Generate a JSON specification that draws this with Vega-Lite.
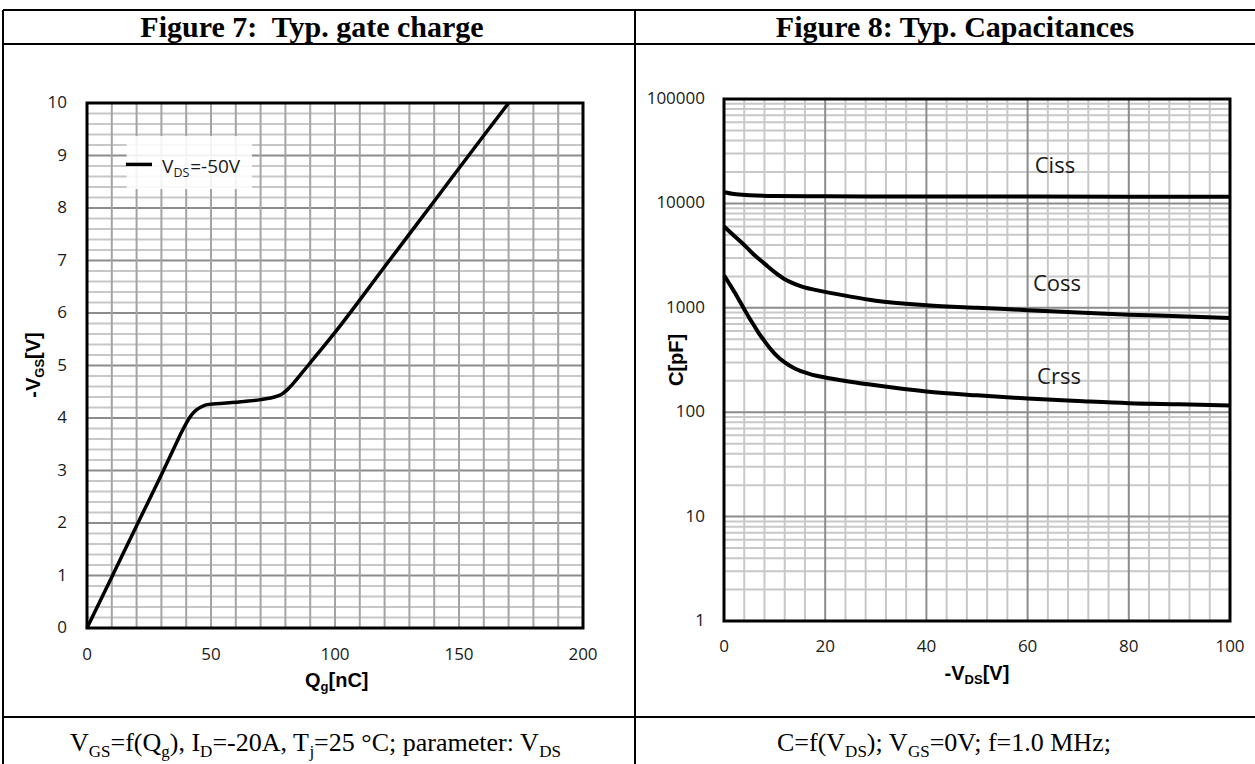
{
  "$schema": "https://vega.github.io/schema/vega-lite/v6.json",
  "width": 1255,
  "height": 764,
  "autosize": "none",
  "padding": 0,
  "background": "white",
  "config": {"view": {"stroke": null}},
  "resolve": {"scale": {"x": "independent", "y": "independent"}, "axis": {"x": "independent", "y": "independent"}},
  "layer": [
    {
      "layer": [
        {
          "data": {"values": [{"v":0.2},{"v":0.4},{"v":0.6},{"v":0.8},{"v":1.2},{"v":1.4},{"v":1.6},{"v":1.8},{"v":2.2},{"v":2.4},{"v":2.6},{"v":2.8},{"v":3.2},{"v":3.4},{"v":3.6},{"v":3.8},{"v":4.2},{"v":4.4},{"v":4.6},{"v":4.8},{"v":5.2},{"v":5.4},{"v":5.6},{"v":5.8},{"v":6.2},{"v":6.4},{"v":6.6},{"v":6.8},{"v":7.2},{"v":7.4},{"v":7.6},{"v":7.8},{"v":8.2},{"v":8.4},{"v":8.6},{"v":8.8},{"v":9.2},{"v":9.4},{"v":9.6},{"v":9.8}]},
          "mark": {"type": "rule", "color": "#c8c8c8", "strokeWidth": 2},
          "encoding": {
            "y": {"field": "v", "type": "quantitative", "scale": {"domain": [-2.590, 11.962], "nice": false, "zero": false}, "axis": null},
            "x": {"datum": 0, "type": "quantitative", "scale": {"domain": [-35.081, 470.968], "nice": false, "zero": false}, "axis": null},
            "x2": {"datum": 200}
          }
        },
        {
          "data": {"values": [{"v":1},{"v":2},{"v":3},{"v":4},{"v":5},{"v":6},{"v":7},{"v":8},{"v":9}]},
          "mark": {"type": "rule", "color": "#8c8c8c", "strokeWidth": 2},
          "encoding": {
            "y": {"field": "v", "type": "quantitative", "scale": {"domain": [-2.590, 11.962], "nice": false, "zero": false}, "axis": null},
            "x": {"datum": 0, "type": "quantitative", "scale": {"domain": [-35.081, 470.968], "nice": false, "zero": false}, "axis": null},
            "x2": {"datum": 200}
          }
        },
        {
          "data": {"values": [{"q":10},{"q":20},{"q":30},{"q":40},{"q":50},{"q":60},{"q":70},{"q":80},{"q":90},{"q":100},{"q":110},{"q":120},{"q":130},{"q":140},{"q":150},{"q":160},{"q":170},{"q":180},{"q":190}]},
          "mark": {"type": "rule", "color": "#a4a4a4", "strokeWidth": 2},
          "encoding": {
            "x": {"field": "q", "type": "quantitative", "scale": {"domain": [-35.081, 470.968], "nice": false, "zero": false}, "axis": null},
            "y": {"datum": 0, "type": "quantitative", "scale": {"domain": [-2.590, 11.962], "nice": false, "zero": false}, "axis": null},
            "y2": {"datum": 10}
          }
        },
        {
          "data": {"values": [{"q":0,"t":"0"},{"q":50,"t":"50"},{"q":100,"t":"100"},{"q":150,"t":"150"},{"q":200,"t":"200"}]},
          "mark": {"type": "text", "align": "center", "baseline": "middle", "dy": 27, "font": "Open Sans", "fontSize": 17, "color": "#1a1a1a"},
          "encoding": {
            "x": {"field": "q", "type": "quantitative", "scale": {"domain": [-35.081, 470.968], "nice": false, "zero": false}, "axis": null},
            "y": {"datum": 0, "type": "quantitative", "scale": {"domain": [-2.590, 11.962], "nice": false, "zero": false}, "axis": null},
            "text": {"field": "t"}
          }
        },
        {
          "data": {"values": [{"v":0,"t":"0"},{"v":1,"t":"1"},{"v":2,"t":"2"},{"v":3,"t":"3"},{"v":4,"t":"4"},{"v":5,"t":"5"},{"v":6,"t":"6"},{"v":7,"t":"7"},{"v":8,"t":"8"},{"v":9,"t":"9"},{"v":10,"t":"10"}]},
          "mark": {"type": "text", "align": "right", "baseline": "middle", "dx": -20, "font": "Open Sans", "fontSize": 17, "color": "#1a1a1a"},
          "encoding": {
            "y": {"field": "v", "type": "quantitative", "scale": {"domain": [-2.590, 11.962], "nice": false, "zero": false}, "axis": null},
            "x": {"datum": 0, "type": "quantitative", "scale": {"domain": [-35.081, 470.968], "nice": false, "zero": false}, "axis": null},
            "text": {"field": "t"}
          }
        },
        {
          "data": {"values": [{"q1": 16, "q2": 66.5, "v1": 8.36, "v2": 9.37}]},
          "mark": {"type": "rect", "fill": "white", "opacity": 0.88},
          "encoding": {
            "x": {"field": "q1", "type": "quantitative", "scale": {"domain": [-35.081, 470.968], "nice": false, "zero": false}, "axis": null},
            "x2": {"field": "q2"},
            "y": {"field": "v1", "type": "quantitative", "scale": {"domain": [-2.590, 11.962], "nice": false, "zero": false}, "axis": null},
            "y2": {"field": "v2"}
          }
        },
        {
          "data": {"values": [{"q1": 15.7, "q2": 26.2, "v": 8.83}]},
          "mark": {"type": "rule", "color": "black", "strokeWidth": 3.5},
          "encoding": {
            "x": {"field": "q1", "type": "quantitative", "scale": {"domain": [-35.081, 470.968], "nice": false, "zero": false}, "axis": null},
            "x2": {"field": "q2"},
            "y": {"field": "v", "type": "quantitative", "scale": {"domain": [-2.590, 11.962], "nice": false, "zero": false}, "axis": null}
          }
        },
        {
          "data": {"values": [{"q": 30.2, "v": 8.67, "t": "V"}, {"q": 41.6, "v": 8.67, "t": "=-50V"}]},
          "mark": {"type": "text", "align": "left", "baseline": "alphabetic", "font": "Open Sans", "fontSize": 19, "color": "#1a1a1a"},
          "encoding": {
            "x": {"field": "q", "type": "quantitative", "scale": {"domain": [-35.081, 470.968], "nice": false, "zero": false}, "axis": null},
            "y": {"field": "v", "type": "quantitative", "scale": {"domain": [-2.590, 11.962], "nice": false, "zero": false}, "axis": null},
            "text": {"field": "t"}
          }
        },
        {
          "data": {"values": [{"q": 34.9, "v": 8.59, "t": "DS"}]},
          "mark": {"type": "text", "align": "left", "baseline": "alphabetic", "font": "Open Sans", "fontSize": 12.5, "color": "#1a1a1a"},
          "encoding": {
            "x": {"field": "q", "type": "quantitative", "scale": {"domain": [-35.081, 470.968], "nice": false, "zero": false}, "axis": null},
            "y": {"field": "v", "type": "quantitative", "scale": {"domain": [-2.590, 11.962], "nice": false, "zero": false}, "axis": null},
            "text": {"field": "t"}
          }
        },
        {
          "data": {"values": [
            {"q":0,"v":0},{"q":10,"v":0.97},{"q":20,"v":1.95},{"q":30,"v":2.92},{"q":36,"v":3.52},{"q":38,"v":3.72},{"q":40,"v":3.9},{"q":42,"v":4.05},{"q":44,"v":4.15},{"q":46,"v":4.21},{"q":48,"v":4.25},{"q":52,"v":4.27},{"q":60,"v":4.30},{"q":70,"v":4.35},{"q":74,"v":4.38},{"q":77,"v":4.42},{"q":79,"v":4.47},{"q":81,"v":4.55},{"q":83,"v":4.65},{"q":86,"v":4.82},{"q":90,"v":5.05},{"q":100,"v":5.63},{"q":120,"v":6.88},{"q":140,"v":8.13},{"q":160,"v":9.38},{"q":170,"v":10.0}
          ]},
          "mark": {"type": "line", "color": "black", "strokeWidth": 3.5, "interpolate": "monotone"},
          "encoding": {
            "x": {"field": "q", "type": "quantitative", "scale": {"domain": [-35.081, 470.968], "nice": false, "zero": false}, "axis": null},
            "y": {"field": "v", "type": "quantitative", "scale": {"domain": [-2.590, 11.962], "nice": false, "zero": false}, "axis": null}
          }
        },
        {
          "data": {"values": [{"q1": 0, "q2": 200, "v1": 0, "v2": 10}]},
          "mark": {"type": "rect", "filled": false, "stroke": "black", "strokeWidth": 3},
          "encoding": {
            "x": {"field": "q1", "type": "quantitative", "scale": {"domain": [-35.081, 470.968], "nice": false, "zero": false}, "axis": null},
            "x2": {"field": "q2"},
            "y": {"field": "v1", "type": "quantitative", "scale": {"domain": [-2.590, 11.962], "nice": false, "zero": false}, "axis": null},
            "y2": {"field": "v2"}
          }
        }
      ]
    },
    {
      "layer": [
        {
          "data": {"values": [{"c":2},{"c":3},{"c":4},{"c":5},{"c":6},{"c":7},{"c":8},{"c":9},{"c":20},{"c":30},{"c":40},{"c":50},{"c":60},{"c":70},{"c":80},{"c":90},{"c":200},{"c":300},{"c":400},{"c":500},{"c":600},{"c":700},{"c":800},{"c":900},{"c":2000},{"c":3000},{"c":4000},{"c":5000},{"c":6000},{"c":7000},{"c":8000},{"c":9000},{"c":20000},{"c":30000},{"c":40000},{"c":50000},{"c":60000},{"c":70000},{"c":80000},{"c":90000}]},
          "mark": {"type": "rule", "color": "#c8c8c8", "strokeWidth": 2},
          "encoding": {
            "y": {"field": "c", "type": "quantitative", "scale": {"type": "log", "domain": [0.0427, 887800], "nice": false}, "axis": null},
            "x": {"datum": 0, "type": "quantitative", "scale": {"domain": [-143.083, 104.941], "nice": false, "zero": false}, "axis": null},
            "x2": {"datum": 100}
          }
        },
        {
          "data": {"values": [{"v":4},{"v":8},{"v":12},{"v":16},{"v":24},{"v":28},{"v":32},{"v":36},{"v":44},{"v":48},{"v":52},{"v":56},{"v":64},{"v":68},{"v":72},{"v":76},{"v":84},{"v":88},{"v":92},{"v":96}]},
          "mark": {"type": "rule", "color": "#c8c8c8", "strokeWidth": 2},
          "encoding": {
            "x": {"field": "v", "type": "quantitative", "scale": {"domain": [-143.083, 104.941], "nice": false, "zero": false}, "axis": null},
            "y": {"datum": 1, "type": "quantitative", "scale": {"type": "log", "domain": [0.0427, 887800], "nice": false}, "axis": null},
            "y2": {"datum": 100000}
          }
        },
        {
          "data": {"values": [{"c":10},{"c":100},{"c":1000},{"c":10000}]},
          "mark": {"type": "rule", "color": "#8c8c8c", "strokeWidth": 2},
          "encoding": {
            "y": {"field": "c", "type": "quantitative", "scale": {"type": "log", "domain": [0.0427, 887800], "nice": false}, "axis": null},
            "x": {"datum": 0, "type": "quantitative", "scale": {"domain": [-143.083, 104.941], "nice": false, "zero": false}, "axis": null},
            "x2": {"datum": 100}
          }
        },
        {
          "data": {"values": [{"v":20},{"v":40},{"v":60},{"v":80}]},
          "mark": {"type": "rule", "color": "#8c8c8c", "strokeWidth": 2},
          "encoding": {
            "x": {"field": "v", "type": "quantitative", "scale": {"domain": [-143.083, 104.941], "nice": false, "zero": false}, "axis": null},
            "y": {"datum": 1, "type": "quantitative", "scale": {"type": "log", "domain": [0.0427, 887800], "nice": false}, "axis": null},
            "y2": {"datum": 100000}
          }
        },
        {
          "data": {"values": [{"v":0,"t":"0"},{"v":20,"t":"20"},{"v":40,"t":"40"},{"v":60,"t":"60"},{"v":80,"t":"80"},{"v":100,"t":"100"}]},
          "mark": {"type": "text", "align": "center", "baseline": "middle", "dy": 26, "font": "Open Sans", "fontSize": 17, "color": "#1a1a1a"},
          "encoding": {
            "x": {"field": "v", "type": "quantitative", "scale": {"domain": [-143.083, 104.941], "nice": false, "zero": false}, "axis": null},
            "y": {"datum": 1, "type": "quantitative", "scale": {"type": "log", "domain": [0.0427, 887800], "nice": false}, "axis": null},
            "text": {"field": "t"}
          }
        },
        {
          "data": {"values": [{"c":1,"t":"1"},{"c":10,"t":"10"},{"c":100,"t":"100"},{"c":1000,"t":"1000"},{"c":10000,"t":"10000"},{"c":100000,"t":"100000"}]},
          "mark": {"type": "text", "align": "right", "baseline": "middle", "dx": -19, "font": "Open Sans", "fontSize": 17, "color": "#1a1a1a"},
          "encoding": {
            "y": {"field": "c", "type": "quantitative", "scale": {"type": "log", "domain": [0.0427, 887800], "nice": false}, "axis": null},
            "x": {"datum": 0, "type": "quantitative", "scale": {"domain": [-143.083, 104.941], "nice": false, "zero": false}, "axis": null},
            "text": {"field": "t"}
          }
        },
        {
          "data": {"values": [
            {"s":"Ciss","v":0,"c":12800},{"s":"Ciss","v":2,"c":12300},{"s":"Ciss","v":5,"c":12000},{"s":"Ciss","v":10,"c":11800},{"s":"Ciss","v":20,"c":11700},{"s":"Ciss","v":40,"c":11650},{"s":"Ciss","v":60,"c":11650},{"s":"Ciss","v":80,"c":11600},{"s":"Ciss","v":100,"c":11600},
            {"s":"Coss","v":0,"c":6000},{"s":"Coss","v":2,"c":4900},{"s":"Coss","v":4,"c":4000},{"s":"Coss","v":6,"c":3200},{"s":"Coss","v":8,"c":2650},{"s":"Coss","v":10,"c":2200},{"s":"Coss","v":12,"c":1880},{"s":"Coss","v":15,"c":1620},{"s":"Coss","v":20,"c":1420},{"s":"Coss","v":25,"c":1280},{"s":"Coss","v":30,"c":1170},{"s":"Coss","v":40,"c":1060},{"s":"Coss","v":50,"c":1000},{"s":"Coss","v":60,"c":950},{"s":"Coss","v":70,"c":900},{"s":"Coss","v":80,"c":860},{"s":"Coss","v":90,"c":830},{"s":"Coss","v":100,"c":800},
            {"s":"Crss","v":0,"c":2050},{"s":"Crss","v":1,"c":1720},{"s":"Crss","v":2,"c":1430},{"s":"Crss","v":3,"c":1180},{"s":"Crss","v":4,"c":970},{"s":"Crss","v":5,"c":800},{"s":"Crss","v":6,"c":670},{"s":"Crss","v":7,"c":560},{"s":"Crss","v":8,"c":480},{"s":"Crss","v":9,"c":415},{"s":"Crss","v":10,"c":365},{"s":"Crss","v":12,"c":300},{"s":"Crss","v":14,"c":262},{"s":"Crss","v":17,"c":232},{"s":"Crss","v":20,"c":215},{"s":"Crss","v":25,"c":196},{"s":"Crss","v":30,"c":181},{"s":"Crss","v":40,"c":158},{"s":"Crss","v":50,"c":145},{"s":"Crss","v":60,"c":135},{"s":"Crss","v":70,"c":128},{"s":"Crss","v":80,"c":122},{"s":"Crss","v":90,"c":119},{"s":"Crss","v":100,"c":116}
          ]},
          "mark": {"type": "line", "color": "black", "strokeWidth": 4, "interpolate": "monotone"},
          "encoding": {
            "x": {"field": "v", "type": "quantitative", "scale": {"domain": [-143.083, 104.941], "nice": false, "zero": false}, "axis": null},
            "y": {"field": "c", "type": "quantitative", "scale": {"type": "log", "domain": [0.0427, 887800], "nice": false}, "axis": null},
            "detail": {"field": "s"}
          }
        },
        {
          "data": {"values": [{"v": 65.4, "c": 22700, "t": "Ciss"}, {"v": 65.8, "c": 1700, "t": "Coss"}, {"v": 66.2, "c": 217, "t": "Crss"}]},
          "mark": {"type": "text", "align": "center", "baseline": "middle", "font": "Open Sans", "fontSize": 22, "color": "#1a1a1a"},
          "encoding": {
            "x": {"field": "v", "type": "quantitative", "scale": {"domain": [-143.083, 104.941], "nice": false, "zero": false}, "axis": null},
            "y": {"field": "c", "type": "quantitative", "scale": {"type": "log", "domain": [0.0427, 887800], "nice": false}, "axis": null},
            "text": {"field": "t"}
          }
        },
        {
          "data": {"values": [{"v1": 0, "v2": 100, "c1": 1, "c2": 100000}]},
          "mark": {"type": "rect", "filled": false, "stroke": "black", "strokeWidth": 3},
          "encoding": {
            "x": {"field": "v1", "type": "quantitative", "scale": {"domain": [-143.083, 104.941], "nice": false, "zero": false}, "axis": null},
            "x2": {"field": "v2"},
            "y": {"field": "c1", "type": "quantitative", "scale": {"type": "log", "domain": [0.0427, 887800], "nice": false}, "axis": null},
            "y2": {"field": "c2"}
          }
        }
      ]
    },
    {
      "layer": [
        {
          "data": {"values": [
            {"x": 3, "y": 10, "x2": 1255, "y2": 10},
            {"x": 3, "y": 44, "x2": 1255, "y2": 44},
            {"x": 3, "y": 717, "x2": 1255, "y2": 717},
            {"x": 3, "y": 10, "x2": 3, "y2": 764},
            {"x": 635, "y": 10, "x2": 635, "y2": 764}
          ]},
          "mark": {"type": "rule", "color": "black", "strokeWidth": 2},
          "encoding": {
            "x": {"field": "x", "type": "quantitative", "scale": {"domain": [0, 1255], "nice": false, "zero": false}, "axis": null},
            "x2": {"field": "x2"},
            "y": {"field": "y", "type": "quantitative", "scale": {"domain": [0, 764], "nice": false, "zero": false, "reverse": true}, "axis": null},
            "y2": {"field": "y2"}
          }
        },
        {
          "data": {"values": [{"x": 312, "y": 37, "t": "Figure 7:\u00a0 Typ. gate charge"}, {"x": 955, "y": 37, "t": "Figure 8: Typ. Capacitances"}]},
          "mark": {"type": "text", "align": "center", "baseline": "alphabetic", "font": "Liberation Serif", "fontWeight": "bold", "fontSize": 30, "color": "black"},
          "encoding": {
            "x": {"field": "x", "type": "quantitative", "scale": {"domain": [0, 1255], "nice": false, "zero": false}, "axis": null},
            "y": {"field": "y", "type": "quantitative", "scale": {"domain": [0, 764], "nice": false, "zero": false, "reverse": true}, "axis": null},
            "text": {"field": "t"}
          }
        },
        {
          "data": {"values": [
            {"x": 70, "y": 751, "t": "V"}, {"x": 110.5, "y": 751, "t": "=f(Q"}, {"x": 169.8, "y": 751, "t": "), I"}, {"x": 212.4, "y": 751, "t": "=-20A, T"}, {"x": 314.1, "y": 751, "t": "=25 °C; parameter: V"},
            {"x": 777, "y": 751, "t": "C=f(V"}, {"x": 866.8, "y": 751, "t": "); V"}, {"x": 929.7, "y": 751, "t": "=0V; f=1.0 MHz;"}
          ]},
          "mark": {"type": "text", "align": "left", "baseline": "alphabetic", "font": "Liberation Serif", "fontSize": 26, "color": "black"},
          "encoding": {
            "x": {"field": "x", "type": "quantitative", "scale": {"domain": [0, 1255], "nice": false, "zero": false}, "axis": null},
            "y": {"field": "y", "type": "quantitative", "scale": {"domain": [0, 764], "nice": false, "zero": false, "reverse": true}, "axis": null},
            "text": {"field": "t"}
          }
        },
        {
          "data": {"values": [
            {"x": 88.8, "y": 757, "t": "GS"}, {"x": 161.3, "y": 757, "t": "g"}, {"x": 200.1, "y": 757, "t": "D"}, {"x": 309.4, "y": 757, "t": "j"}, {"x": 539.2, "y": 757, "t": "DS"},
            {"x": 845.1, "y": 757, "t": "DS"}, {"x": 908.0, "y": 757, "t": "GS"}
          ]},
          "mark": {"type": "text", "align": "left", "baseline": "alphabetic", "font": "Liberation Serif", "fontSize": 17, "color": "black"},
          "encoding": {
            "x": {"field": "x", "type": "quantitative", "scale": {"domain": [0, 1255], "nice": false, "zero": false}, "axis": null},
            "y": {"field": "y", "type": "quantitative", "scale": {"domain": [0, 764], "nice": false, "zero": false, "reverse": true}, "axis": null},
            "text": {"field": "t"}
          }
        },
        {
          "data": {"values": [
            {"x": 305, "y": 687, "t": "Q"}, {"x": 328.5, "y": 687, "t": "[nC]"},
            {"x": 944.6, "y": 680, "t": "-V"}, {"x": 982.7, "y": 680, "t": "[V]"}
          ]},
          "mark": {"type": "text", "align": "left", "baseline": "alphabetic", "font": "Liberation Sans", "fontWeight": "bold", "fontSize": 20, "color": "black"},
          "encoding": {
            "x": {"field": "x", "type": "quantitative", "scale": {"domain": [0, 1255], "nice": false, "zero": false}, "axis": null},
            "y": {"field": "y", "type": "quantitative", "scale": {"domain": [0, 764], "nice": false, "zero": false, "reverse": true}, "axis": null},
            "text": {"field": "t"}
          }
        },
        {
          "data": {"values": [
            {"x": 320.6, "y": 691, "t": "g"},
            {"x": 964.6, "y": 684, "t": "DS"}
          ]},
          "mark": {"type": "text", "align": "left", "baseline": "alphabetic", "font": "Liberation Sans", "fontWeight": "bold", "fontSize": 13, "color": "black"},
          "encoding": {
            "x": {"field": "x", "type": "quantitative", "scale": {"domain": [0, 1255], "nice": false, "zero": false}, "axis": null},
            "y": {"field": "y", "type": "quantitative", "scale": {"domain": [0, 764], "nice": false, "zero": false, "reverse": true}, "axis": null},
            "text": {"field": "t"}
          }
        },
        {
          "data": {"values": [
            {"x": 40, "y": 397.7, "t": "-V"}, {"x": 40, "y": 358.9, "t": "[V]"},
            {"x": 683, "y": 386, "t": "C[pF]"}
          ]},
          "mark": {"type": "text", "align": "left", "baseline": "alphabetic", "angle": 270, "font": "Liberation Sans", "fontWeight": "bold", "fontSize": 20, "color": "black"},
          "encoding": {
            "x": {"field": "x", "type": "quantitative", "scale": {"domain": [0, 1255], "nice": false, "zero": false}, "axis": null},
            "y": {"field": "y", "type": "quantitative", "scale": {"domain": [0, 764], "nice": false, "zero": false, "reverse": true}, "axis": null},
            "text": {"field": "t"}
          }
        },
        {
          "data": {"values": [
            {"x": 44, "y": 377.7, "t": "GS"}
          ]},
          "mark": {"type": "text", "align": "left", "baseline": "alphabetic", "angle": 270, "font": "Liberation Sans", "fontWeight": "bold", "fontSize": 13, "color": "black"},
          "encoding": {
            "x": {"field": "x", "type": "quantitative", "scale": {"domain": [0, 1255], "nice": false, "zero": false}, "axis": null},
            "y": {"field": "y", "type": "quantitative", "scale": {"domain": [0, 764], "nice": false, "zero": false, "reverse": true}, "axis": null},
            "text": {"field": "t"}
          }
        }
      ]
    }
  ]
}
